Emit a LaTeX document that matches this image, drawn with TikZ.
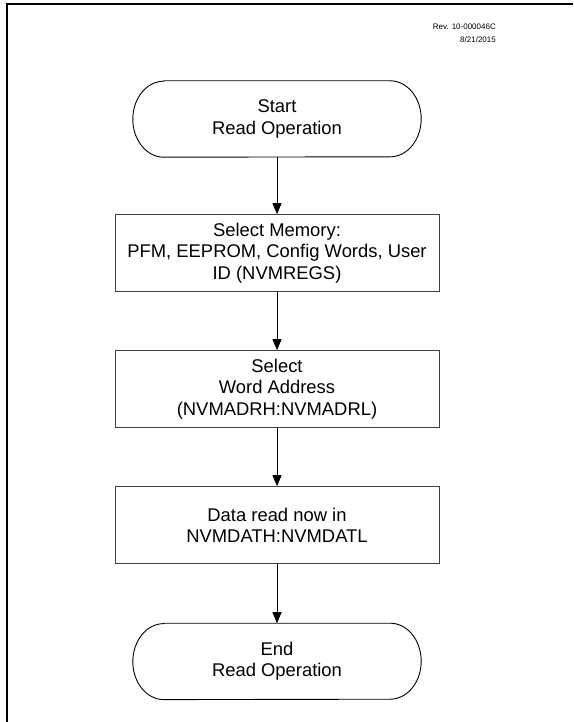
\documentclass[tikz,border=0pt]{standalone}
\usepackage{fontspec}
\setmainfont{Liberation Sans}
\usetikzlibrary{arrows.meta,positioning}

\begin{document}
\begin{tikzpicture}[
  terminal/.style={rectangle, minimum width=288pt, minimum height=76pt, align=center,
    font=\fontsize{18.4}{21.5}\selectfont},
  process/.style={draw=black!75, rectangle, line width=1pt,
    minimum width=324pt, minimum height=77pt, align=center,
    font=\fontsize{18.4}{21.5}\selectfont},
  rev/.style={align=right, inner sep=0pt, font=\fontsize{8}{13}\selectfont},
  arrow/.style={-{Triangle[length=11pt,width=9pt]}, line width=0.9pt}]
\useasboundingbox (0pt,0pt) rectangle (573pt,-722pt);
% page frame
\draw[line width=1.7pt] (6.7pt,-722pt) -- (6.7pt,-4.2pt) -- (573pt,-4.2pt);
\node[rev, anchor=north east] (revision) at (496pt,-24pt) {Rev. 10-000046C\\8/21/2015};
\node[terminal] (start) at (277pt,-119pt) {Start\\Read Operation};
\node[process, below=57pt of start] (memsel) {Select Memory:\\PFM, EEPROM, Config Words, User\\ID (NVMREGS)};
\node[process, below=58pt of memsel] (addrsel) {Select\\Word Address\\(NVMADRH:NVMADRL)};
\node[process, below=58pt of addrsel] (dataread) {Data read now in\\NVMDATH:NVMDATL};
\node[terminal, below=59pt of dataread] (stop) {End\\Read Operation};
% terminal outlines with elliptic ends
\foreach \t in {start,stop}
  \draw[line width=0.9pt] ([xshift=31pt]\t.north west) -- ([xshift=-31pt]\t.north east)
    arc[start angle=90, end angle=-90, x radius=31pt, y radius=38pt]
    -- ([xshift=31pt]\t.south west)
    arc[start angle=270, end angle=90, x radius=31pt, y radius=38pt] -- cycle;
\draw[arrow] (start) -- (memsel);
\draw[arrow] (memsel) -- (addrsel);
\draw[arrow] (addrsel) -- (dataread);
\draw[arrow] (dataread) -- (stop);
\end{tikzpicture}
\end{document}
